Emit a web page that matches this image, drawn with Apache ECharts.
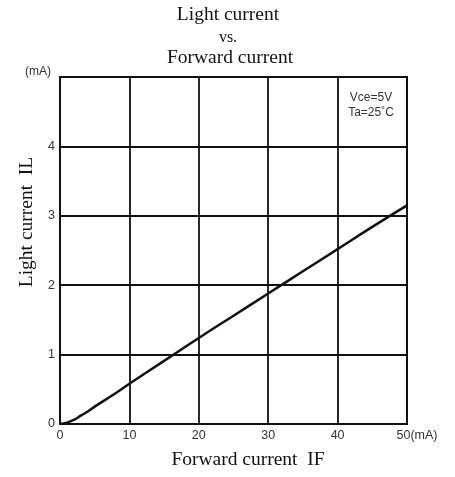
<!DOCTYPE html>
<html>
<head>
<meta charset="utf-8">
<script src="https://cdn.jsdelivr.net/npm/echarts@6/dist/echarts.min.js"></script>
<style>html,body{margin:0;padding:0;background:#fff;}#c{width:455px;height:477px;}</style>
</head>
<body>
<div id="c"></div>
<script>
const forwardCurrent = [0, 1, 2, 3, 4, 5, 7.5, 10, 15, 20, 25, 30, 35, 40, 45, 50];
const lightCurrent = [0, 0.02, 0.06, 0.12, 0.18, 0.25, 0.41, 0.58, 0.91, 1.24, 1.56, 1.88, 2.2, 2.52, 2.84, 3.15];
const xTicks = [0, 10, 20, 30, 40, 50];
const yTicks = [0, 1, 2, 3, 4];
const titleLines = ['Light current', 'vs.', 'Forward current'];
const xName = 'Forward current  IF';
const yName = 'Light current  IL';
const unitLabel = '(mA)';
const conditions = ['Vce=5V', 'Ta=25\u02DAC'];

const serif = '"Liberation Serif", "DejaVu Serif", serif';
const sans = '"Liberation Sans", Arial, sans-serif';
const chart = echarts.init(document.getElementById('c'));
chart.setOption({
  backgroundColor: '#fff',
  animation: false,
  grid: { left: 60, top: 77, width: 347, height: 347, containLabel: false },
  xAxis: {
    type: 'value', min: 0, max: 50, interval: 10,
    axisLine: { lineStyle: { color: '#111', width: 2 } },
    axisTick: { show: false },
    splitLine: { lineStyle: { color: '#111', width: 1.8 } },
    axisLabel: {
      margin: 5, fontFamily: sans, fontSize: 12.5, color: '#333',
      formatter: function (v) {
        if (xTicks.indexOf(v) < 0) return '';
        return v === 50 ? '{u|50' + unitLabel + '}' : String(v);
      },
      rich: { u: { fontFamily: sans, fontSize: 12.5, color: '#333', padding: [0, 0, 0, 20] } }
    }
  },
  yAxis: {
    type: 'value', min: 0, max: 5, interval: 1,
    axisLine: { lineStyle: { color: '#111', width: 2 } },
    axisTick: { show: false },
    splitLine: { lineStyle: { color: '#111', width: 1.8 } },
    axisLabel: {
      margin: 5, fontFamily: sans, fontSize: 12.5, color: '#333',
      formatter: function (v) { return yTicks.indexOf(v) >= 0 ? String(v) : ''; }
    }
  },
  graphic: [
    { type: 'rect', shape: { x: 60, y: 77, width: 347, height: 347 }, style: { fill: 'none', stroke: '#111', lineWidth: 2 }, z: 10 },
    { type: 'text', x: 228, y: 15, style: { text: titleLines[0], font: '19.5px ' + serif, fill: '#111', align: 'center', verticalAlign: 'middle' } },
    { type: 'text', x: 228, y: 38, style: { text: titleLines[1], font: '16px ' + serif, fill: '#111', align: 'center', verticalAlign: 'middle' } },
    { type: 'text', x: 230, y: 58, style: { text: titleLines[2], font: '19.5px ' + serif, fill: '#111', align: 'center', verticalAlign: 'middle' } },
    { type: 'text', x: 25, y: 72, style: { text: unitLabel, font: '12px ' + sans, fill: '#333', verticalAlign: 'middle' } },
    { type: 'text', x: 371, y: 98, style: { text: conditions[0], font: '12px ' + sans, fill: '#333', align: 'center', verticalAlign: 'middle' } },
    { type: 'text', x: 371, y: 113, style: { text: conditions[1], font: '12px ' + sans, fill: '#333', align: 'center', verticalAlign: 'middle' } },
    { type: 'text', x: 248, y: 460, style: { text: xName, font: '19.5px ' + serif, fill: '#111', align: 'center', verticalAlign: 'middle' } },
    { type: 'text', x: 27, y: 222, rotation: Math.PI / 2, style: { text: yName, font: '19.5px ' + serif, fill: '#111', align: 'center', verticalAlign: 'middle' } }
  ],
  series: [{
    type: 'line',
    data: forwardCurrent.map((x, i) => [x, lightCurrent[i]]),
    showSymbol: false,
    smooth: true,
    lineStyle: { color: '#111', width: 2.5 },
    z: 5
  }]
});
</script>
</body>
</html>
